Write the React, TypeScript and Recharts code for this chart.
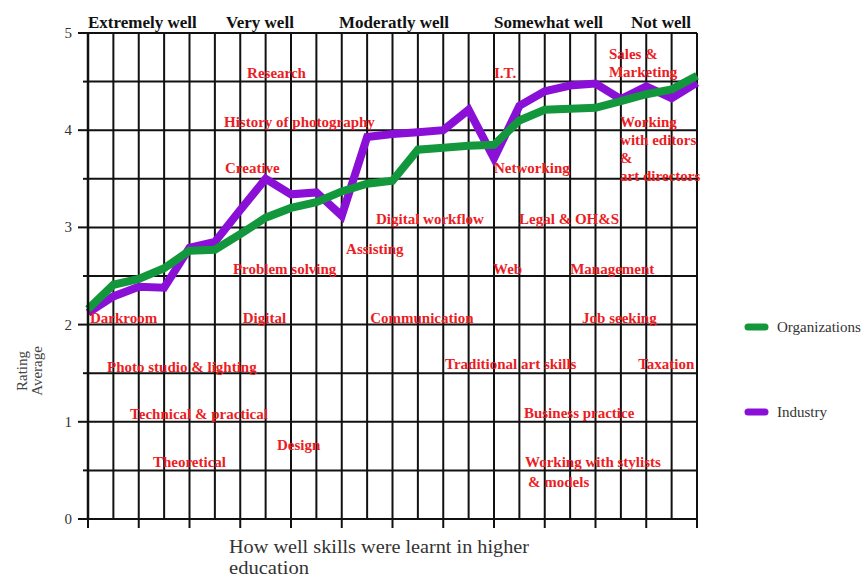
import React from "react";
import {
  LineChart,
  Line,
  XAxis,
  YAxis,
  CartesianGrid,
  ReferenceDot,
} from "recharts";

// x positions along the skill scale (one per grid column)
const positions = [0, 1, 2, 3, 4, 5, 6, 7, 8, 9, 10, 11, 12, 13, 14, 15, 16, 17, 18, 19, 20, 21, 22, 23, 24];
const yTicks = [0, 0.5, 1, 1.5, 2, 2.5, 3, 3.5, 4, 4.5, 5];

const organizations = [2.16, 2.41, 2.47, 2.58, 2.76, 2.77, 2.93, 3.1, 3.2, 3.26, 3.37, 3.45, 3.48, 3.8, 3.82, 3.84, 3.85, 4.1, 4.21, 4.22, 4.23, 4.3, 4.37, 4.42, 4.56];
const industry = [2.12, 2.29, 2.39, 2.38, 2.79, 2.85, 3.18, 3.5, 3.34, 3.36, 3.12, 3.93, 3.96, 3.98, 4.0, 4.21, 3.71, 4.25, 4.4, 4.46, 4.48, 4.32, 4.45, 4.33, 4.49];

const headers = [
  { text: "Extremely well", x: 0, y: 5.05 },
  { text: "Very well", x: 5.44, y: 5.05 },
  { text: "Moderatly well", x: 9.89, y: 5.05 },
  { text: "Somewhat well", x: 16.0, y: 5.05 },
  { text: "Not well", x: 21.4, y: 5.05 },
];

const skills = [
  { lines: ["Research"], x: 6.27, y: 4.54 },
  { lines: ["History of photography"], x: 5.36, y: 4.03 },
  { lines: ["Creative"], x: 5.4, y: 3.56 },
  { lines: ["Problem solving"], x: 5.71, y: 2.52 },
  { lines: ["Digital"], x: 6.1, y: 2.02 },
  { lines: ["Darkroom"], x: 0.08, y: 2.02 },
  { lines: ["Photo studio & lighting"], x: 0.75, y: 1.51 },
  { lines: ["Technical & practical"], x: 1.66, y: 1.03 },
  { lines: ["Theoretical"], x: 2.56, y: 0.53 },
  { lines: ["Design"], x: 7.45, y: 0.71 },
  { lines: ["Assisting"], x: 10.17, y: 2.73 },
  { lines: ["Digital workflow"], x: 11.35, y: 3.04 },
  { lines: ["Communication"], x: 11.12, y: 2.02 },
  { lines: ["Traditional art skills"], x: 14.07, y: 1.54 },
  { lines: ["I.T."], x: 16.0, y: 4.54 },
  { lines: ["Networking"], x: 16.0, y: 3.56 },
  { lines: ["Web"], x: 15.96, y: 2.52 },
  { lines: ["Legal & OH&S"], x: 16.99, y: 3.04 },
  { lines: ["Business practice"], x: 17.18, y: 1.04 },
  { lines: ["Working with stylists"], x: 17.22, y: 0.53 },
  { lines: ["& models"], x: 17.34, y: 0.33 },
  { lines: ["Management"], x: 19.0, y: 2.52 },
  { lines: ["Job seeking"], x: 19.47, y: 2.02 },
  { lines: ["Sales &", "Marketing"], x: 20.53, y: 4.73 },
  { lines: ["Working", "with editors", "&", "art directors"], x: 20.97, y: 4.03 },
  { lines: ["Taxation"], x: 21.68, y: 1.54 },
];

const series = [
  { key: "organizations", name: "Organizations", color: "#13973c" },
  { key: "industry", name: "Industry", color: "#8a10d8" },
];

const data = positions.map((pos, i) => ({
  pos,
  organizations: organizations[i],
  industry: industry[i],
}));

const FONT = "'Liberation Serif', 'Times New Roman', serif";

const XTick = (props: any) => {
  const { x, y, payload } = props;
  if (payload.value % 2 !== 0) return <g />;
  return <line x1={x} y1={y} x2={x} y2={y + 9} stroke="#111" strokeWidth={2} />;
};

const YTick = (props: any) => {
  const { x, y, payload } = props;
  const whole = Number.isInteger(payload.value);
  return (
    <g>
      <line x1={x - (whole ? 10 : 5)} y1={y} x2={x} y2={y} stroke="#111" strokeWidth={2} />
      {whole && (
        <text x={x - 16} y={y + 5} textAnchor="end" fontSize={15} fill="#333" fontFamily={FONT}>
          {payload.value}
        </text>
      )}
    </g>
  );
};

const textLabel = (lines: string[], color: string, size: number) => (props: any) => {
  const { x, y } = props.viewBox;
  return (
    <text x={x} y={y} fill={color} fontSize={size} fontWeight="bold" fontFamily={FONT}>
      {lines.map((l, i) => (
        <tspan key={i} x={x} dy={i === 0 ? 0 : 18}>
          {l}
        </tspan>
      ))}
    </text>
  );
};

export default function App() {
  return (
    <div style={{ position: "fixed", left: 0, top: 0, width: 864, height: 578, overflow: "hidden", background: "#fff" }}>
      <div style={{ position: "absolute", left: 8, top: 8, width: 856, height: 570 }}>
        <LineChart
          width={856}
          height={562}
          data={data}
          margin={{ top: 25, right: 167, left: 0, bottom: 31 }}
        >
          <CartesianGrid stroke="#111" strokeWidth={2} />
          <XAxis
            dataKey="pos"
            type="number"
            domain={[0, 24]}
            ticks={positions}
            interval={0}
            height={20}
            tickSize={0}
            tickMargin={0}
            tick={(p: any) => <XTick {...p} />}
            axisLine={{ stroke: "#111", strokeWidth: 2 }}
          />
          <YAxis
            type="number"
            domain={[0, 5]}
            ticks={yTicks}
            interval={0}
            width={80}
            tickSize={0}
            tickMargin={0}
            tick={(p: any) => <YTick {...p} />}
            axisLine={{ stroke: "#111", strokeWidth: 2.5 }}
          />
          <Line
            type="linear"
            dataKey="industry"
            stroke={series[1].color}
            strokeWidth={8}
            dot={false}
            isAnimationActive={false}
          />
          <Line
            type="linear"
            dataKey="organizations"
            stroke={series[0].color}
            strokeWidth={8}
            dot={false}
            isAnimationActive={false}
          />
          {headers.map((h) => (
            <ReferenceDot
              key={h.text}
              x={h.x}
              y={h.y}
              r={0}
              fill="none"
              stroke="none"
              ifOverflow="visible"
              label={textLabel([h.text], "#111", 17)}
            />
          ))}
          {skills.map((s) => (
            <ReferenceDot
              key={s.lines.join(" ")}
              x={s.x}
              y={s.y}
              r={0}
              fill="none"
              stroke="none"
              ifOverflow="visible"
              label={textLabel(s.lines, "#ec1c24", 15)}
            />
          ))}
        </LineChart>
        <svg
          width={856}
          height={570}
          style={{ position: "absolute", left: 0, top: 0, pointerEvents: "none", overflow: "visible" }}
        >
          <text x={221} y={545} fontSize={18} fill="#333" fontFamily={FONT} textLength={300} lengthAdjust="spacingAndGlyphs">
            How well skills were learnt in higher
          </text>
          <text x={221} y={566} fontSize={18} fill="#333" fontFamily={FONT} textLength={80} lengthAdjust="spacingAndGlyphs">
            education
          </text>
          <g transform="translate(19,363) rotate(-90)">
            <text x={0} y={0} textAnchor="middle" fontSize={15} fill="#444" fontFamily={FONT}>Rating</text>
            <text x={0} y={15} textAnchor="middle" fontSize={15} fill="#444" fontFamily={FONT}>Average</text>
          </g>
          {series.map((s, i) => (
            <g key={s.key}>
              <line
                x1={740}
                y1={319 + i * 85}
                x2={757}
                y2={319 + i * 85}
                stroke={s.color}
                strokeWidth={7}
                strokeLinecap="round"
              />
              <text x={769} y={324 + i * 85} fontSize={15} fill="#333" fontFamily={FONT}>
                {s.name}
              </text>
            </g>
          ))}
        </svg>
      </div>
    </div>
  );
}
